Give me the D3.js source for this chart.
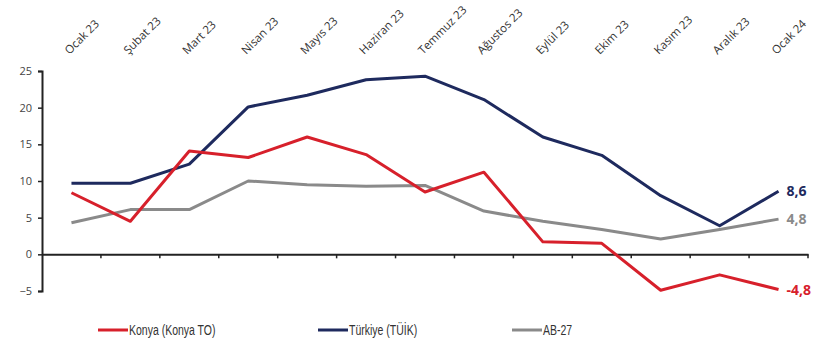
<!DOCTYPE html>
<html>
<head>
<meta charset="utf-8">
<script src="https://cdn.jsdelivr.net/npm/d3@7"></script>
<style>
    body { margin: 0; background: #fff; }
    svg text { font-family: "Open Sans", sans-serif; }
</style>
</head>
<body>
<svg id="chart" width="822" height="348"></svg>
<script>
    var months = ["Ocak 23", "Şubat 23", "Mart 23", "Nisan 23", "Mayıs 23", "Haziran 23",
        "Temmuz 23", "Ağustos 23", "Eylül 23", "Ekim 23", "Kasım 23", "Aralık 23", "Ocak 24"];
    var konya = [8.4, 4.5, 14.1, 13.2, 16.0, 13.6, 8.5, 11.2, 1.7, 1.5, -4.9, -2.8, -4.8];
    var turkiye = [9.7, 9.7, 12.3, 20.1, 21.7, 23.8, 24.3, 21.1, 16.0, 13.5, 8.0, 3.9, 8.6];
    var ab27 = [4.3, 6.1, 6.1, 10.0, 9.5, 9.3, 9.4, 5.9, 4.5, 3.4, 2.1, 3.4, 4.8];
    var yTicks = [-5, 0, 5, 10, 15, 20, 25];

    var series = [
        { name: "Konya (Konya TO)", values: konya, color: "#d7202b", label: "-4,8" },
        { name: "Türkiye (TÜİK)", values: turkiye, color: "#1e2a5e", label: "8,6" },
        { name: "AB-27", values: ab27, color: "#8a8a8a", label: "4,8" }
    ];

    var svg = d3.select("#chart");

    var x = d3.scaleBand().domain(months).range([42, 808]);
    var y = d3.scaleLinear().domain([-5, 25]).range([291, 71]);

    // y ekseni
    var yAxis = svg.append("g")
        .attr("transform", "translate(42,0)")
        .call(d3.axisLeft(y).tickValues(yTicks).tickSize(4).tickPadding(6));
    yAxis.select(".domain").attr("stroke", "#222").attr("stroke-width", 2);
    yAxis.selectAll(".tick line").attr("stroke", "#222").attr("stroke-width", 1.5);
    yAxis.selectAll(".tick text").attr("fill", "#444").style("font-size", "11px");

    // x ekseni (sıfır çizgisi)
    var xAxis = svg.append("g")
        .attr("transform", "translate(0," + y(0) + ")")
        .call(d3.axisBottom(x).tickSize(0).tickFormat(""));
    xAxis.select(".domain").attr("stroke", "#222").attr("stroke-width", 2);
    xAxis.selectAll(".tick").remove();
    xAxis.selectAll("line.sep")
        .data(months)
        .enter()
        .append("line")
        .attr("x1", function (d) { return x(d) + x.bandwidth(); })
        .attr("x2", function (d) { return x(d) + x.bandwidth(); })
        .attr("y1", 0)
        .attr("y2", 4)
        .attr("stroke", "#222")
        .attr("stroke-width", 1.5);

    // üst etiketler
    svg.append("g")
        .selectAll("text")
        .data(months)
        .enter()
        .append("text")
        .attr("transform", function (d) {
            return "translate(" + (x(d) + x.bandwidth() / 2 - 2) + ",55) rotate(-45)";
        })
        .attr("fill", "#333")
        .style("font-size", "11.5px")
        .text(function (d) { return d; });

    var line = d3.line()
        .x(function (d, i) { return x(months[i]) + x.bandwidth() / 2; })
        .y(function (d) { return y(d); });

    var drawOrder = [series[2], series[1], series[0]];
    svg.append("g")
        .selectAll("path")
        .data(drawOrder)
        .enter()
        .append("path")
        .attr("d", function (s) { return line(s.values); })
        .attr("fill", "none")
        .attr("stroke", function (s) { return s.color; })
        .attr("stroke-width", 3)
        .attr("stroke-linejoin", "round");

    // son değer etiketleri
    var last = months.length - 1;
    svg.append("g")
        .selectAll("text")
        .data(series)
        .enter()
        .append("text")
        .attr("x", x(months[last]) + x.bandwidth() / 2 + 8)
        .attr("y", function (s) { return y(s.values[last]) + 5; })
        .attr("fill", function (s) { return s.color; })
        .style("font-size", "14px")
        .style("font-weight", "bold")
        .text(function (s) { return s.label; });

    // lejant
    var legendX = [98, 318, 512];
    var legend = svg.append("g")
        .selectAll("g")
        .data(series)
        .enter()
        .append("g")
        .attr("transform", function (s, i) { return "translate(" + legendX[i] + ",330)"; });
    legend.append("line")
        .attr("x1", 0).attr("x2", 30)
        .attr("stroke", function (s) { return s.color; })
        .attr("stroke-width", 3);
    legend.append("text")
        .attr("transform", "translate(31,5) scale(0.75,1)")
        .attr("fill", "#333")
        .style("font-family", "'Liberation Sans', sans-serif")
        .style("font-size", "14px")
        .text(function (s) { return s.name; });
</script>
</body>
</html>
